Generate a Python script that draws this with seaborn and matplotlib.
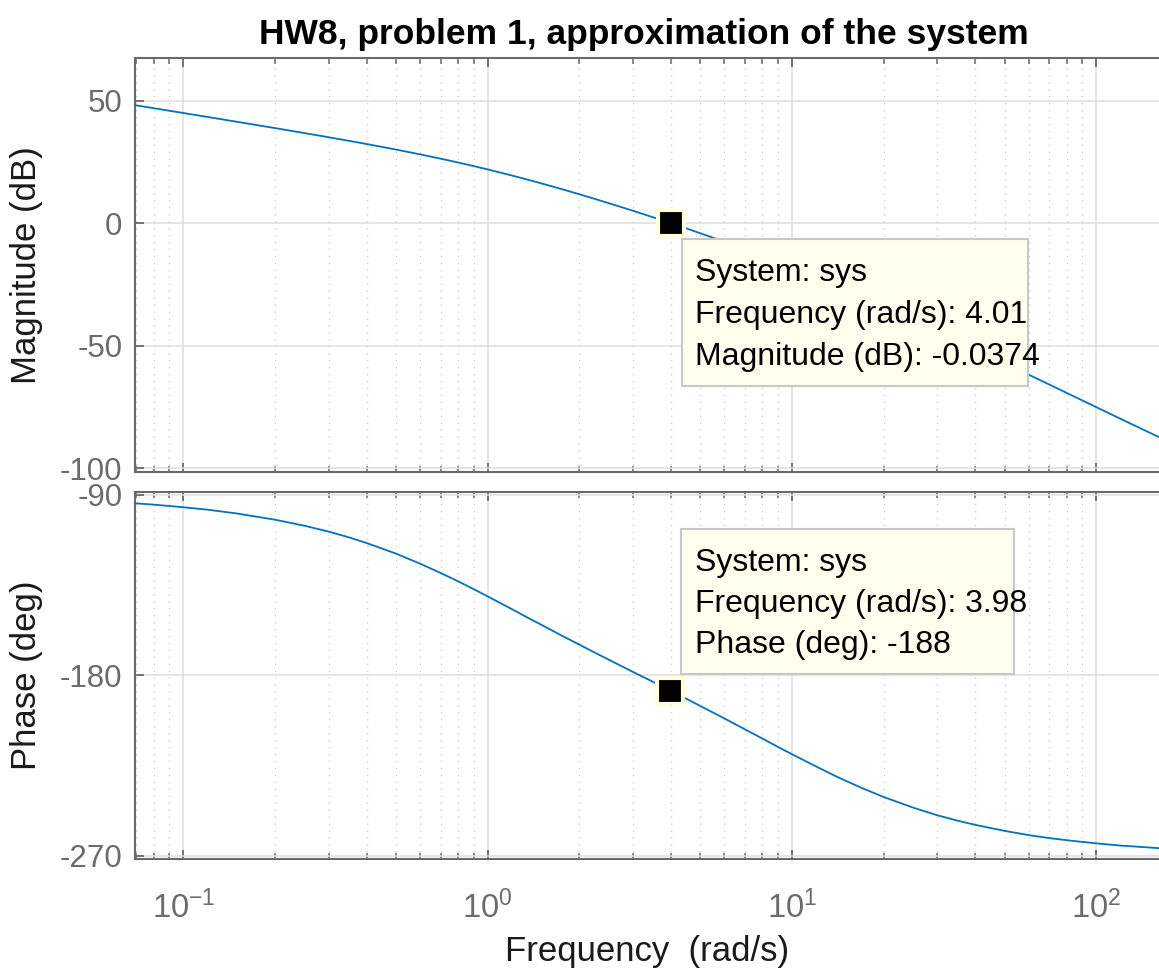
import numpy as np
import pandas as pd
import matplotlib
matplotlib.use("Agg")
import matplotlib.pyplot as plt
from matplotlib.patches import Rectangle
from matplotlib.ticker import LogLocator, FixedLocator, NullFormatter
import seaborn as sns

# values
freq = [0.069, 0.08, 0.1, 0.12, 0.15, 0.2, 0.25, 0.3, 0.35, 0.4, 0.5, 0.6, 0.7,
        0.8, 0.9, 1.0, 1.2, 1.35, 1.5, 1.75, 2.0, 2.25, 2.5, 3.0, 3.5, 4.0,
        4.5, 5.0, 6.0, 7.0, 8.0, 9.0, 10.0, 12.0, 14.0, 15.0, 17.0, 20.0,
        25.0, 30.0, 35.0, 40.0, 50.0, 60.0, 70.0, 85.0, 100.0, 120.0, 160.7]
mag_db = [48.2, 46.91, 44.96, 43.36, 41.38, 38.81, 36.77, 35.08, 33.61, 32.31,
          30.04, 28.09, 26.35, 24.76, 23.30, 21.95, 19.48, 17.81, 16.26, 13.92,
          11.82, 9.92, 8.17, 5.09, 2.40, 0.0, -2.14, -4.10, -7.58, -10.62,
          -13.34, -15.80, -18.05, -22.07, -25.58, -27.18, -30.13, -34.04,
          -39.53, -44.09, -47.99, -51.39, -57.11, -61.81, -65.79, -70.83,
          -75.04, -79.78, -87.26]
phase_deg = [-94.3, -95.0, -96.3, -97.5, -99.4, -102.5, -105.5, -108.4, -111.3,
             -114.1, -119.4, -124.4, -129.0, -133.2, -137.1, -140.7, -147.0,
             -151.2, -154.8, -160.2, -164.7, -168.7, -172.2, -178.3, -183.3,
             -187.8, -191.7, -195.3, -201.5, -206.9, -211.5, -215.7, -219.3,
             -225.4, -230.4, -232.5, -236.2, -240.6, -245.9, -249.7, -252.4,
             -254.5, -257.5, -259.6, -261.1, -262.6, -263.7, -264.8, -266.1]

tip_freq = [4.01, 3.98]
tip_vals = [-0.0374, -188]
tip_text_mag = ["System: sys", "Frequency (rad/s): 4.01", "Magnitude (dB): -0.0374"]
tip_text_phase = ["System: sys", "Frequency (rad/s): 3.98", "Phase (deg): -188"]

mag_ticks = [-100, -50, 0, 50]
phase_ticks = [-270, -180, -90]

df = pd.DataFrame({"freq": freq, "mag": mag_db, "phase": phase_deg})

sns.set_theme(style="white")
plt.rcParams["font.family"] = ["Liberation Sans", "DejaVu Sans"]
plt.rcParams["axes.unicode_minus"] = False
plt.rcParams["mathtext.default"] = "regular"

W, H = 1159, 969
fig = plt.figure(figsize=(W / 100, H / 100), dpi=100)

def px_box(x0, y0, x1, y1):
    return [x0 / W, 1 - y1 / H, (x1 - x0) / W, (y1 - y0) / H]

ax1 = fig.add_axes(px_box(135, 58, 1159, 472))
ax2 = fig.add_axes(px_box(135, 492, 1159, 859))

LINE = "#0072BD"
SPINE = "#6a6a6a"
TICKC = "#6b6b6b"

sns.lineplot(data=df, x="freq", y="mag", ax=ax1, color=LINE, lw=1.3, zorder=3)
sns.lineplot(data=df, x="freq", y="phase", ax=ax2, color=LINE, lw=1.3, zorder=3)

# datatip markers
sns.scatterplot(x=[tip_freq[0]], y=[tip_vals[0]], ax=ax1, marker="s", s=330,
                color="black", edgecolor="#FFFFDC", linewidth=3, zorder=5)
sns.scatterplot(x=[tip_freq[1]], y=[tip_vals[1]], ax=ax2, marker="s", s=330,
                color="black", edgecolor="#FFFFDC", linewidth=3, zorder=5)

for ax in (ax1, ax2):
    ax.set_xscale("log")
    ax.set_xlim(0.06938, 160.7)
    ax.xaxis.set_major_locator(LogLocator(base=10, numticks=10))
    ax.xaxis.set_minor_locator(LogLocator(base=10, subs=np.arange(2, 10), numticks=20))
    ax.xaxis.set_minor_formatter(NullFormatter())
    ax.grid(True, which="major", color="#dedede", lw=1.1, ls="-")
    ax.grid(True, which="minor", axis="x", color="#cfcfcf", lw=1.0, ls=(0, (1, 4)))
    ax.set_axisbelow(True)
    for side in ("left", "top", "bottom"):
        ax.spines[side].set_color(SPINE)
        ax.spines[side].set_linewidth(1.5)
    ax.spines["right"].set_visible(False)
    ax.tick_params(which="both", direction="in", top=True, bottom=True,
                   left=True, right=False, color=SPINE, labelcolor=TICKC,
                   labelsize=22.5)
    ax.tick_params(which="major", length=6.5, width=1.3)
    ax.tick_params(which="minor", length=4, width=1.1)
    ax.tick_params(axis="y", which="major", pad=9)
    ax.set_xlabel("")
    ax.yaxis.set_minor_locator(FixedLocator([]))

ax1.set_ylim(-101.5, 67.4)
ax1.set_yticks(mag_ticks)
ax1.tick_params(axis="x", labelbottom=False)
ax2.set_ylim(-271.5, -88.7)
ax2.set_yticks(phase_ticks)
ax2.tick_params(axis="x", which="major", pad=23, labelsize=23.5)

ax1.set_ylabel("Magnitude (dB)", fontsize=25, color="#1a1a1a")
ax2.set_ylabel("Phase (deg)", fontsize=25, color="#1a1a1a")
ax1.yaxis.set_label_coords(-0.0898, 0.5)
ax2.yaxis.set_label_coords(-0.0898, 0.5)
ax2.set_xlabel("Frequency  (rad/s)", fontsize=25, color="#1a1a1a", labelpad=7)
ax1.set_title("HW8, problem 1, approximation of the system", fontsize=25.5,
              fontweight="bold", pad=10, x=0.4965, color="black")

# datatip boxes
def tip_box(x0, y0, x1, y1, lines, ys):
    rect = Rectangle((x0 / W, 1 - y1 / H), (x1 - x0) / W, (y1 - y0) / H,
                     transform=fig.transFigure, facecolor="#FFFFEE",
                     edgecolor="#c8c8c8", lw=1.5, zorder=10)
    fig.add_artist(rect)
    for t, yy in zip(lines, ys):
        fig.text(695 / W, 1 - yy / H, t, fontsize=23, color="black",
                 va="center", ha="left", zorder=11)

tip_box(682, 239, 1028, 386, tip_text_mag, [273, 315, 357])
tip_box(681, 529, 1014, 674, tip_text_phase, [563, 604, 645])

fig.savefig("out.png", dpi=100)
